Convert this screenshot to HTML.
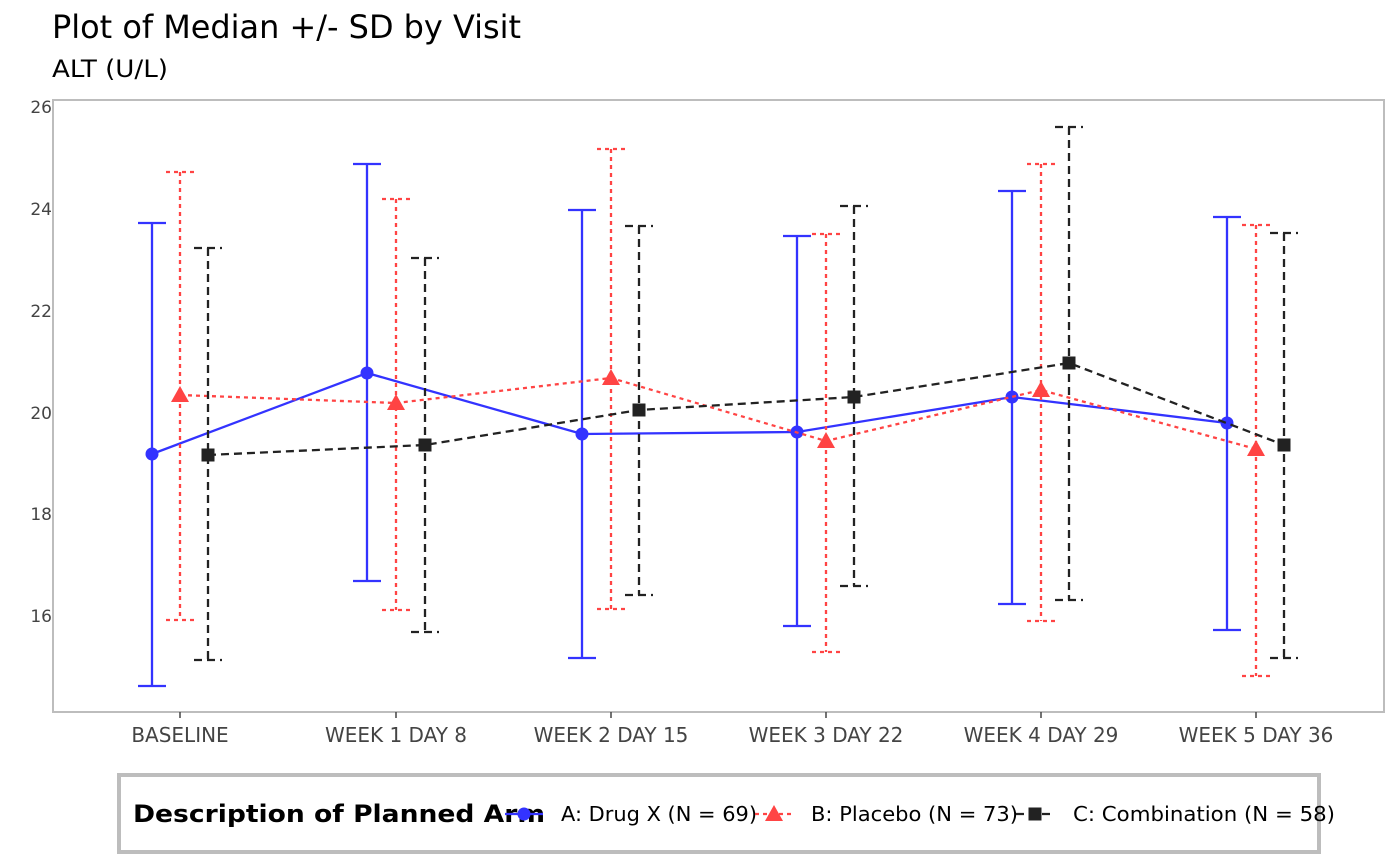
<!DOCTYPE html>
<html><head><meta charset="utf-8"><style>
body{margin:0;background:#fff;}
svg{display:block;font-family:"DejaVu Sans",sans-serif;}
</style></head><body>
<svg width="1400" height="866" viewBox="0 0 1400 866" xmlns="http://www.w3.org/2000/svg">
<text x="52" y="38" font-size="32" fill="#000" textLength="469" lengthAdjust="spacingAndGlyphs">Plot of Median +/- SD by Visit</text>
<text x="52" y="77" font-size="24" fill="#000" textLength="116" lengthAdjust="spacingAndGlyphs">ALT (U/L)</text>
<rect x="53" y="100" width="1331" height="612" fill="#fff" stroke="#bdbdbd" stroke-width="2"/>
<g font-size="17" fill="#444" text-anchor="end">
<text x="52" y="622">16</text><text x="52" y="520">18</text><text x="52" y="419">20</text>
<text x="52" y="317">22</text><text x="52" y="215">24</text><text x="52" y="113">26</text>
</g>
<g stroke="#444" stroke-width="1.5">
<line y1="712" y2="718" x1="180" x2="180"/><line y1="712" y2="718" x1="396" x2="396"/><line y1="712" y2="718" x1="611" x2="611"/>
<line y1="712" y2="718" x1="826" x2="826"/><line y1="712" y2="718" x1="1041" x2="1041"/><line y1="712" y2="718" x1="1256" x2="1256"/>
</g>
<g font-size="20" fill="#444" text-anchor="middle">
<text x="180" y="742">BASELINE</text><text x="396" y="742">WEEK 1 DAY 8</text><text x="611" y="742">WEEK 2 DAY 15</text>
<text x="826" y="742">WEEK 3 DAY 22</text><text x="1041" y="742">WEEK 4 DAY 29</text><text x="1256" y="742">WEEK 5 DAY 36</text>
</g>
<!-- A -->
<g stroke="#3333ff" stroke-width="2.3" fill="none">
<path d="M152 223V686M138 223H166M138 686H166"/>
<path d="M367 164V581M353 164H381M353 581H381"/>
<path d="M582 210V658M568 210H596M568 658H596"/>
<path d="M797 236V626M783 236H811M783 626H811"/>
<path d="M1012 191V604M998 191H1026M998 604H1026"/>
<path d="M1227 217V630M1213 217H1241M1213 630H1241"/>
<polyline points="152,454 367,373 582,434 797,432 1012,397 1227,423"/>
</g>
<g fill="#3333ff"><circle cx="152" cy="454" r="6.5"/><circle cx="367" cy="373" r="6.5"/><circle cx="582" cy="434" r="6.5"/><circle cx="797" cy="432" r="6.5"/><circle cx="1012" cy="397" r="6.5"/><circle cx="1227" cy="423" r="6.5"/></g>
<!-- B -->
<g stroke="#ff4444" stroke-width="2.3" fill="none" stroke-dasharray="4,4">
<path d="M180 172V620M166 172H194M166 620H194"/>
<path d="M396 199V610M382 199H410M382 610H410"/>
<path d="M611 149V609M597 149H625M597 609H625"/>
<path d="M826 234V652M812 234H840M812 652H840"/>
<path d="M1041 164V621M1027 164H1055M1027 621H1055"/>
<path d="M1256 225V676M1242 225H1270M1242 676H1270"/>
<polyline points="180,395 396,403 611,378 826,441 1041,390 1256,449"/>
</g>
<g fill="#ff4444">
<polygon points="180,386 189,402 171,402"/><polygon points="396,394 405,410 387,410"/><polygon points="611,369 620,385 602,385"/>
<polygon points="826,432 835,448 817,448"/><polygon points="1041,381 1050,397 1032,397"/><polygon points="1256,440 1265,456 1247,456"/>
</g>
<!-- C -->
<g stroke="#222" stroke-width="2.3" fill="none" stroke-dasharray="8,5">
<path d="M208 248V660M194 248H222M194 660H222"/>
<path d="M425 258V632M411 258H439M411 632H439"/>
<path d="M639 226V595M625 226H653M625 595H653"/>
<path d="M854 206V586M840 206H868M840 586H868"/>
<path d="M1069 127V600M1055 127H1083M1055 600H1083"/>
<path d="M1284 233V658M1270 233H1298M1270 658H1298"/>
<polyline points="208,455 425,445 639,410 854,397 1069,363 1284,445"/>
</g>
<g fill="#222">
<rect x="201.5" y="448.5" width="13" height="13"/><rect x="418.5" y="438.5" width="13" height="13"/><rect x="632.5" y="403.5" width="13" height="13"/>
<rect x="847.5" y="390.5" width="13" height="13"/><rect x="1062.5" y="356.5" width="13" height="13"/><rect x="1277.5" y="438.5" width="13" height="13"/>
</g>
<!-- Legend -->
<rect x="119" y="775" width="1200" height="77" fill="#fff" stroke="#bdbdbd" stroke-width="4"/>
<text x="133" y="822" font-size="24" font-weight="bold" fill="#000" textLength="412" lengthAdjust="spacingAndGlyphs">Description of Planned Arm</text>
<g font-size="20" fill="#000">
<line x1="505" x2="543" y1="814" y2="814" stroke="#3333ff" stroke-width="2.3"/><circle cx="524" cy="814" r="6.5" fill="#3333ff"/>
<text x="561" y="821" textLength="196" lengthAdjust="spacingAndGlyphs">A: Drug X (N = 69)</text>
<line x1="755" x2="793" y1="814" y2="814" stroke="#ff4444" stroke-width="2.3" stroke-dasharray="4,4"/><polygon points="774,805 783,821 765,821" fill="#ff4444"/>
<text x="811" y="821" textLength="207" lengthAdjust="spacingAndGlyphs">B: Placebo (N = 73)</text>
<line x1="1016" x2="1054" y1="814" y2="814" stroke="#222" stroke-width="2.3" stroke-dasharray="8,5"/><rect x="1028.5" y="807.5" width="13" height="13" fill="#222"/>
<text x="1073" y="821" textLength="262" lengthAdjust="spacingAndGlyphs">C: Combination (N = 58)</text>
</g>
</svg>
</body></html>
